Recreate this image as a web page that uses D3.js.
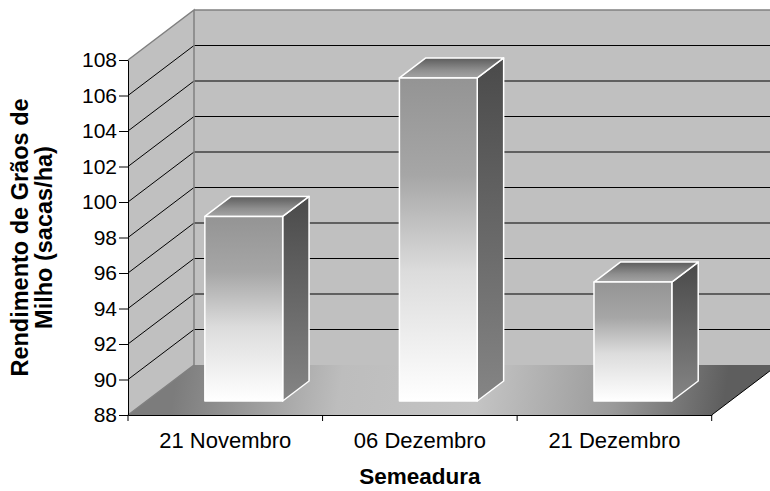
<!DOCTYPE html>
<html>
<head>
<meta charset="utf-8">
<script src="https://cdn.jsdelivr.net/npm/d3@7"></script>
<style>
  body { margin: 0; background: #fff; }
  svg { display: block; font-family: Arial, "Liberation Sans", sans-serif; }
</style>
</head>
<body>
<div id="chart"></div>
<script>
var categories = ["21 Novembro", "06 Dezembro", "21 Dezembro"];
var values = [98.4, 106.2, 94.7];
var yTicks = [88, 90, 92, 94, 96, 98, 100, 102, 104, 106, 108];

var width = 770, height = 491;
var plot = { left: 128, right: 711.7, top: 60, bottom: 415 };
var depth = { dx: 66, dy: -50 };
var barFront = 0.28, barBack = 0.68;

var svg = d3.select("#chart").append("svg")
  .attr("width", width)
  .attr("height", height);

var x = d3.scaleBand()
  .domain(categories)
  .range([plot.left, plot.right]);

var y = d3.scaleLinear()
  .domain([88, 108])
  .range([plot.bottom, plot.top]);

function pt(px, py, d) {
  return [px + d * depth.dx, py + d * depth.dy];
}
function poly(points) {
  return points.map(function(p) { return p[0] + "," + p[1]; }).join(" ");
}

var defs = svg.append("defs");

function vGrad(id, stops) {
  var g = defs.append("linearGradient").attr("id", id)
    .attr("x1", 0).attr("y1", 0).attr("x2", 0).attr("y2", 1);
  stops.forEach(function(s) {
    g.append("stop").attr("offset", s[0]).attr("stop-color", s[1]);
  });
}
vGrad("frontGrad", [[0, "#949494"], [0.3, "#a6a6a6"], [0.6, "#dcdcdc"], [1, "#ffffff"]]);
vGrad("sideGrad", [[0, "#4a4a4a"], [1, "#858585"]]);
vGrad("topGrad", [[0, "#5c5c5c"], [0.6, "#8e8e8e"], [1, "#a4a4a4"]]);

var floorGrad = defs.append("linearGradient").attr("id", "floorGrad")
  .attr("gradientUnits", "userSpaceOnUse")
  .attr("x1", 180).attr("y1", 350).attr("x2", 720).attr("y2", 430);
[[0, "#7c7c7c"], [0.3, "#bdbdbd"], [0.55, "#c4c4c4"], [0.8, "#9a9a9a"], [1, "#5e5e5e"]].forEach(function(s) {
  floorGrad.append("stop").attr("offset", s[0]).attr("stop-color", s[1]);
});

var y0 = y(88), yTop = y(108);
var backRight = plot.right + depth.dx;

// back wall
svg.append("polygon")
  .attr("points", poly([pt(plot.left, yTop, 1), pt(backRight - depth.dx, yTop, 1), pt(backRight - depth.dx, y0, 1), pt(plot.left, y0, 1)]))
  .attr("fill", "#c0c0c0");

// side wall
svg.append("polygon")
  .attr("points", poly([[plot.left, yTop], pt(plot.left, yTop, 1), pt(plot.left, y0, 1), [plot.left, y0]]))
  .attr("fill", "#c0c0c0");

// floor
svg.append("polygon")
  .attr("points", poly([[plot.left, y0], pt(plot.left, y0, 1), pt(plot.right, y0, 1), [plot.right, y0]]))
  .attr("fill", "url(#floorGrad)");

// gridlines
var inner = yTicks.filter(function(v) { return v > 88 && v < 108; });
svg.append("g").selectAll("polyline")
  .data(inner)
  .enter().append("polyline")
  .attr("points", function(v) {
    return poly([[plot.left, y(v)], pt(plot.left, y(v), 1), pt(plot.right + 20, y(v), 1)]);
  })
  .attr("fill", "none")
  .attr("stroke", "#000")
  .attr("stroke-width", 1);

// wall borders
svg.append("polyline")
  .attr("points", poly([[plot.left, y0], pt(plot.left, y0, 1), pt(plot.left, yTop, 1), [plot.left, yTop]]))
  .attr("fill", "none").attr("stroke", "#808080").attr("stroke-width", 1.5);
svg.append("line")
  .attr("x1", plot.left + depth.dx).attr("y1", yTop + depth.dy)
  .attr("x2", width + 10).attr("y2", yTop + depth.dy)
  .attr("stroke", "#808080").attr("stroke-width", 1.5);

// floor right edge
svg.append("line")
  .attr("x1", plot.right).attr("y1", y0)
  .attr("x2", plot.right + depth.dx).attr("y2", y0 + depth.dy)
  .attr("stroke", "#000").attr("stroke-width", 1);

// bars
var bw = x.bandwidth() * 0.4;
var bars = svg.append("g").selectAll("g")
  .data(values)
  .enter().append("g");

function barGeom(v, i) {
  var cx = x(categories[i]) + x.bandwidth() / 2;
  var l = cx - bw / 2, r = cx + bw / 2;
  return { l: l, r: r, top: y(v), base: y(88) };
}

bars.append("polygon")
  .attr("points", function(v, i) {
    var b = barGeom(v, i);
    return poly([pt(b.r, b.top, barFront), pt(b.r, b.top, barBack), pt(b.r, b.base, barBack), pt(b.r, b.base, barFront)]);
  })
  .attr("fill", "url(#sideGrad)")
  .attr("stroke", "#fff").attr("stroke-width", 1.5).attr("stroke-linejoin", "round");

bars.append("polygon")
  .attr("points", function(v, i) {
    var b = barGeom(v, i);
    return poly([pt(b.l, b.top, barFront), pt(b.l, b.top, barBack), pt(b.r, b.top, barBack), pt(b.r, b.top, barFront)]);
  })
  .attr("fill", "url(#topGrad)")
  .attr("stroke", "#fff").attr("stroke-width", 1.5).attr("stroke-linejoin", "round");

bars.append("polygon")
  .attr("points", function(v, i) {
    var b = barGeom(v, i);
    return poly([pt(b.l, b.top, barFront), pt(b.r, b.top, barFront), pt(b.r, b.base, barFront), pt(b.l, b.base, barFront)]);
  })
  .attr("fill", "url(#frontGrad)")
  .attr("stroke", "#fff").attr("stroke-width", 1.5).attr("stroke-linejoin", "round");

// y axis
var yAxis = svg.append("g")
  .attr("transform", "translate(" + plot.left + ",0)")
  .call(d3.axisLeft(y).tickValues(yTicks).tickFormat(d3.format("d")).tickSize(9).tickSizeOuter(0).tickPadding(2));
yAxis.select(".domain").attr("stroke", "#000");
yAxis.selectAll("text").attr("font-size", 21).attr("font-family", "Arial, 'Liberation Sans', sans-serif").attr("fill", "#000");

// x axis
var xAxis = svg.append("g")
  .attr("transform", "translate(0," + plot.bottom + ")")
  .call(d3.axisBottom(x).tickSize(0).tickPadding(17).tickSizeOuter(0));
xAxis.select(".domain").attr("stroke", "#000");
xAxis.selectAll("text").attr("font-size", 22).attr("font-family", "Arial, 'Liberation Sans', sans-serif").attr("fill", "#000");
var edges = categories.map(function(c) { return x(c); }).concat([plot.right]);
xAxis.selectAll(".edge").data(edges).enter().append("line")
  .attr("class", "edge")
  .attr("x1", function(d) { return d; }).attr("x2", function(d) { return d; })
  .attr("y1", 0).attr("y2", 6)
  .attr("stroke", "#000");

// axis titles
svg.append("text")
  .attr("x", (plot.left + plot.right) / 2)
  .attr("y", 484)
  .attr("text-anchor", "middle")
  .attr("font-size", 22.5)
  .attr("font-weight", "bold")
  .text("Semeadura");

var yTitle = svg.append("text")
  .attr("transform", "translate(28," + ((plot.top + plot.bottom) / 2) + ") rotate(-90)")
  .attr("text-anchor", "middle")
  .attr("font-size", 23.5)
  .attr("font-weight", "bold");
yTitle.append("tspan").attr("x", 0).attr("y", 0).text("Rendimento de Grãos de");
yTitle.append("tspan").attr("x", 0).attr("y", 24).text("Milho (sacas/ha)");
</script>
</body>
</html>
